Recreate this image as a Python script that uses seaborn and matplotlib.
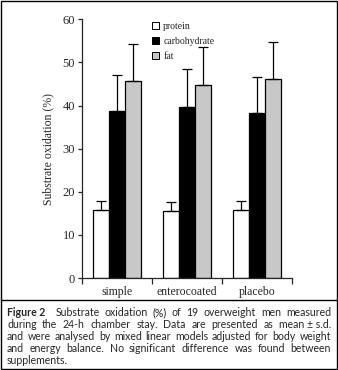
import matplotlib
matplotlib.use("Agg")
import matplotlib.pyplot as plt
import seaborn as sns
import pandas as pd
import numpy as np
from matplotlib.patches import Rectangle
from matplotlib.lines import Line2D

categories = ["simple", "enterocoated", "placebo"]
substrates = ["protein", "carbohydrate", "fat"]
protein_mean = [15.8, 15.5, 15.8]
protein_sd = [2.0, 2.1, 2.0]
carb_mean = [38.7, 39.6, 38.2]
carb_sd = [8.5, 8.8, 8.5]
fat_mean = [45.6, 44.7, 46.1]
fat_sd = [8.6, 8.8, 8.6]
yticks = [0, 10, 20, 30, 40, 50, 60]
caption_lines = [
    "Figure 2 | Substrate oxidation (%) of 19 overweight men measured",
    "during the 24-h chamber stay. Data are presented as mean\u00a0\u00b1\u00a0s.d.",
    "and were analysed by mixed linear models adjusted for body weight",
    "and energy balance. No significant difference was found between",
    "supplements.",
]

means = [protein_mean, carb_mean, fat_mean]
sds = [protein_sd, carb_sd, fat_sd]
rows = []
for s, m, d in zip(substrates, means, sds):
    for c, mv, dv in zip(categories, m, d):
        rows.append({"group": c, "substrate": s, "value": mv, "sd": dv})
df = pd.DataFrame(rows)

colors = ["#ffffff", "#000000", "#c8c8c8"]

sns.set_style("ticks")
plt.rcParams["font.family"] = ["Liberation Serif", "DejaVu Serif"]

W, H = 338, 370
fig = plt.figure(figsize=(W / 100, H / 100), dpi=100)
ax = fig.add_axes([0.2426, 0.2486, 0.864 - 0.2426, 0.699])

sns.barplot(data=df, x="group", y="value", hue="substrate", order=categories,
            hue_order=substrates, palette=colors, edgecolor="black", linewidth=0.9,
            errorbar=None, width=0.686, ax=ax, legend=False, saturation=1)

for i, s in enumerate(substrates):
    sub = df[df.substrate == s]
    cont = ax.containers[i]
    xs = [p.get_x() + p.get_width() / 2 for p in cont]
    ax.errorbar(xs, sub["value"].values,
                yerr=[np.zeros(len(sub)), sub["sd"].values],
                fmt="none", ecolor="black", elinewidth=0.9, capsize=3.5, capthick=0.9)

ax.set_ylim(0, 60)
ax.set_xlim(-0.5, 2.5)
ax.set_yticks(yticks)
ax.set_yticklabels([str(t) for t in yticks], fontsize=9)
ax.set_ylabel("Substrate oxidation (%)", fontsize=8.5, labelpad=6)
ax.set_xlabel("")
ax.set_xticks(range(3))
ax.set_xticklabels(categories, fontsize=8.5)
ax.tick_params(axis="x", length=0, pad=6)
ax.set_xticks([-0.5, 0.5, 1.5, 2.5], minor=True)
ax.tick_params(axis="x", which="minor", length=4, width=0.9, direction="out")
ax.tick_params(axis="y", length=3, width=0.9, direction="out", pad=2)
sns.despine(ax=ax)
for sp in ["left", "bottom"]:
    ax.spines[sp].set_linewidth(0.9)

handles = [Rectangle((0, 0), 1, 1, facecolor=c, edgecolor="black", linewidth=0.7) for c in colors]
ax.legend(handles, substrates, loc="upper left", bbox_to_anchor=(0.315, 1.005),
          frameon=False, fontsize=7, handlelength=0.75, handleheight=0.75,
          handletextpad=0.4, labelspacing=0.6, borderaxespad=0)

fig.add_artist(Rectangle((0.003, 0.003), 0.994, 0.994, transform=fig.transFigure,
                         fill=False, edgecolor="black", linewidth=1.0))
fig.add_artist(Line2D([0.003, 0.997], [1 - 300 / H, 1 - 300 / H],
                      transform=fig.transFigure, color="black", linewidth=1.0))

# justified caption
cap_font = ["Lato", "DejaVu Sans"]
fs = 7.6
renderer = fig.canvas.get_renderer()
x_left, x_right = 7.0, 331.0
y0 = 313.0
dy = 11.8
head_gap = 10.0


def measure(word, bold=False):
    t = fig.text(0, 0, word, fontsize=fs, family=cap_font,
                 fontweight="bold" if bold else "normal")
    w = t.get_window_extent(renderer=renderer).width
    t.remove()
    return w


for k, line in enumerate(caption_lines):
    y = 1 - (y0 + k * dy) / H
    x = x_left
    if "|" in line:
        head, rest = line.split(" | ")
        fig.text(x / W, y, head, fontsize=fs, family=cap_font, fontweight="bold",
                 va="center", ha="left")
        x += measure(head, True) + head_gap
        line = rest
    words = line.split(" ")
    widths = [measure(w) for w in words]
    last = k == len(caption_lines) - 1
    if last or len(words) == 1:
        gap = measure("a b") - measure("ab")
    else:
        gap = (x_right - x - sum(widths)) / (len(words) - 1)
    for w, wd in zip(words, widths):
        fig.text(x / W, y, w, fontsize=fs, family=cap_font, va="center", ha="left")
        x += wd + gap

fig.savefig("out.png", dpi=100)
